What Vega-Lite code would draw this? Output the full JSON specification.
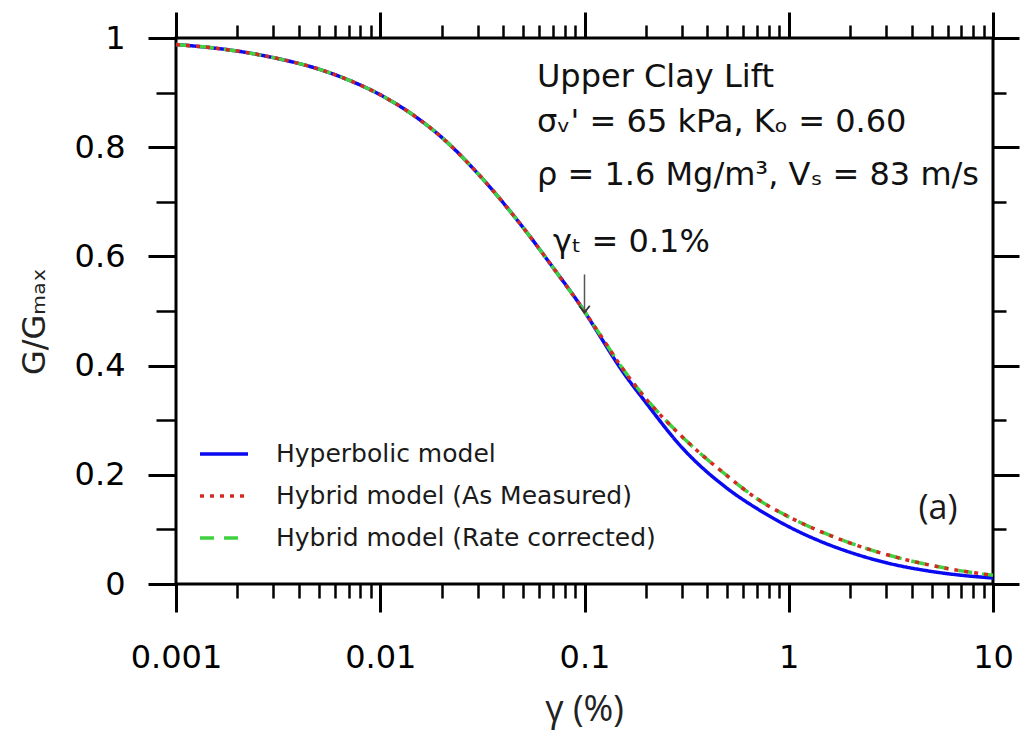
{
  "$schema": "https://vega.github.io/schema/vega-lite/v6.json",
  "width": 817,
  "height": 546,
  "autosize": {"type": "none"},
  "padding": {"left": 176, "top": 38, "right": 30, "bottom": 151},
  "background": "white",
  "config": {
    "view": {"stroke": "black", "strokeWidth": 3},
    "axis": {"domain": false, "grid": false, "tickColor": "black", "labelColor": "black", "labelFont": "DejaVu Sans", "labelFontSize": 32, "labelFlush": false, "labelOverlap": false, "titleColor": "black", "titleFontWeight": "normal"},
    "legend": {"padding": 0}
  },
  "datasets": {
    "curves": [
      {"gamma": 0.001, "G": 0.988, "model": "Hyperbolic model"},
      {"gamma": 0.0015, "G": 0.982, "model": "Hyperbolic model"},
      {"gamma": 0.002, "G": 0.976, "model": "Hyperbolic model"},
      {"gamma": 0.003, "G": 0.964, "model": "Hyperbolic model"},
      {"gamma": 0.005, "G": 0.943, "model": "Hyperbolic model"},
      {"gamma": 0.007, "G": 0.923, "model": "Hyperbolic model"},
      {"gamma": 0.01, "G": 0.896, "model": "Hyperbolic model"},
      {"gamma": 0.015, "G": 0.855, "model": "Hyperbolic model"},
      {"gamma": 0.02, "G": 0.818, "model": "Hyperbolic model"},
      {"gamma": 0.03, "G": 0.752, "model": "Hyperbolic model"},
      {"gamma": 0.05, "G": 0.653, "model": "Hyperbolic model"},
      {"gamma": 0.07, "G": 0.580, "model": "Hyperbolic model"},
      {"gamma": 0.1, "G": 0.499, "model": "Hyperbolic model"},
      {"gamma": 0.12, "G": 0.452, "model": "Hyperbolic model"},
      {"gamma": 0.15, "G": 0.395, "model": "Hyperbolic model"},
      {"gamma": 0.2, "G": 0.332, "model": "Hyperbolic model"},
      {"gamma": 0.3, "G": 0.250, "model": "Hyperbolic model"},
      {"gamma": 0.5, "G": 0.175, "model": "Hyperbolic model"},
      {"gamma": 0.7, "G": 0.138, "model": "Hyperbolic model"},
      {"gamma": 1, "G": 0.105, "model": "Hyperbolic model"},
      {"gamma": 1.5, "G": 0.075, "model": "Hyperbolic model"},
      {"gamma": 2, "G": 0.058, "model": "Hyperbolic model"},
      {"gamma": 3, "G": 0.039, "model": "Hyperbolic model"},
      {"gamma": 5, "G": 0.023, "model": "Hyperbolic model"},
      {"gamma": 7, "G": 0.016, "model": "Hyperbolic model"},
      {"gamma": 10, "G": 0.011, "model": "Hyperbolic model"},
      {"gamma": 0.001, "G": 0.988, "model": "Hybrid model (Rate corrected)"},
      {"gamma": 0.0015, "G": 0.982, "model": "Hybrid model (Rate corrected)"},
      {"gamma": 0.002, "G": 0.976, "model": "Hybrid model (Rate corrected)"},
      {"gamma": 0.003, "G": 0.964, "model": "Hybrid model (Rate corrected)"},
      {"gamma": 0.005, "G": 0.943, "model": "Hybrid model (Rate corrected)"},
      {"gamma": 0.007, "G": 0.923, "model": "Hybrid model (Rate corrected)"},
      {"gamma": 0.01, "G": 0.896, "model": "Hybrid model (Rate corrected)"},
      {"gamma": 0.015, "G": 0.855, "model": "Hybrid model (Rate corrected)"},
      {"gamma": 0.02, "G": 0.818, "model": "Hybrid model (Rate corrected)"},
      {"gamma": 0.03, "G": 0.752, "model": "Hybrid model (Rate corrected)"},
      {"gamma": 0.05, "G": 0.653, "model": "Hybrid model (Rate corrected)"},
      {"gamma": 0.07, "G": 0.580, "model": "Hybrid model (Rate corrected)"},
      {"gamma": 0.1, "G": 0.499, "model": "Hybrid model (Rate corrected)"},
      {"gamma": 0.12, "G": 0.455, "model": "Hybrid model (Rate corrected)"},
      {"gamma": 0.15, "G": 0.400, "model": "Hybrid model (Rate corrected)"},
      {"gamma": 0.2, "G": 0.340, "model": "Hybrid model (Rate corrected)"},
      {"gamma": 0.3, "G": 0.270, "model": "Hybrid model (Rate corrected)"},
      {"gamma": 0.5, "G": 0.198, "model": "Hybrid model (Rate corrected)"},
      {"gamma": 0.7, "G": 0.156, "model": "Hybrid model (Rate corrected)"},
      {"gamma": 1, "G": 0.123, "model": "Hybrid model (Rate corrected)"},
      {"gamma": 1.5, "G": 0.093, "model": "Hybrid model (Rate corrected)"},
      {"gamma": 2, "G": 0.075, "model": "Hybrid model (Rate corrected)"},
      {"gamma": 3, "G": 0.054, "model": "Hybrid model (Rate corrected)"},
      {"gamma": 5, "G": 0.034, "model": "Hybrid model (Rate corrected)"},
      {"gamma": 7, "G": 0.024, "model": "Hybrid model (Rate corrected)"},
      {"gamma": 10, "G": 0.016, "model": "Hybrid model (Rate corrected)"},
      {"gamma": 0.001, "G": 0.988, "model": "Hybrid model (As Measured)"},
      {"gamma": 0.0015, "G": 0.982, "model": "Hybrid model (As Measured)"},
      {"gamma": 0.002, "G": 0.976, "model": "Hybrid model (As Measured)"},
      {"gamma": 0.003, "G": 0.964, "model": "Hybrid model (As Measured)"},
      {"gamma": 0.005, "G": 0.943, "model": "Hybrid model (As Measured)"},
      {"gamma": 0.007, "G": 0.923, "model": "Hybrid model (As Measured)"},
      {"gamma": 0.01, "G": 0.896, "model": "Hybrid model (As Measured)"},
      {"gamma": 0.015, "G": 0.855, "model": "Hybrid model (As Measured)"},
      {"gamma": 0.02, "G": 0.818, "model": "Hybrid model (As Measured)"},
      {"gamma": 0.03, "G": 0.752, "model": "Hybrid model (As Measured)"},
      {"gamma": 0.05, "G": 0.653, "model": "Hybrid model (As Measured)"},
      {"gamma": 0.07, "G": 0.580, "model": "Hybrid model (As Measured)"},
      {"gamma": 0.1, "G": 0.499, "model": "Hybrid model (As Measured)"},
      {"gamma": 0.12, "G": 0.455, "model": "Hybrid model (As Measured)"},
      {"gamma": 0.15, "G": 0.400, "model": "Hybrid model (As Measured)"},
      {"gamma": 0.2, "G": 0.339, "model": "Hybrid model (As Measured)"},
      {"gamma": 0.3, "G": 0.270, "model": "Hybrid model (As Measured)"},
      {"gamma": 0.5, "G": 0.198, "model": "Hybrid model (As Measured)"},
      {"gamma": 0.7, "G": 0.156, "model": "Hybrid model (As Measured)"},
      {"gamma": 1, "G": 0.123, "model": "Hybrid model (As Measured)"},
      {"gamma": 1.5, "G": 0.093, "model": "Hybrid model (As Measured)"},
      {"gamma": 2, "G": 0.075, "model": "Hybrid model (As Measured)"},
      {"gamma": 3, "G": 0.054, "model": "Hybrid model (As Measured)"},
      {"gamma": 5, "G": 0.034, "model": "Hybrid model (As Measured)"},
      {"gamma": 7, "G": 0.024, "model": "Hybrid model (As Measured)"},
      {"gamma": 10, "G": 0.016, "model": "Hybrid model (As Measured)"}
    ],
    "notes": [
      {"gamma": 0.0585, "G": 0.910, "label": "Upper Clay Lift"},
      {"gamma": 0.0585, "G": 0.828, "label": "σᵥ' = 65 kPa, Kₒ = 0.60"},
      {"gamma": 0.0585, "G": 0.731, "label": "ρ = 1.6 Mg/m³, Vₛ = 83 m/s"},
      {"gamma": 0.0701, "G": 0.608, "label": "γₜ = 0.1%"}
    ],
    "arrow": [
      {"gamma": 0.1, "G": 0.567, "G2": 0.497}
    ],
    "panel": [
      {"gamma": 5.38, "G": 0.137, "label": "(a)"}
    ]
  },
  "layer": [
    {
      "data": {"name": "curves"},
      "mark": {"type": "line", "strokeWidth": 3.5, "interpolate": "monotone"},
      "encoding": {
        "x": {"field": "gamma", "type": "quantitative", "scale": {"type": "log", "domain": [0.001, 10]},
          "axis": {"orient": "bottom", "values": [0.001, 0.01, 0.1, 1, 10], "format": "~g", "tickSize": 28, "tickWidth": 3, "labelPadding": 30,
            "title": "γ (%)", "titleFont": "Open Sans", "titleFontSize": 36, "titleX": 408, "titleY": 136, "titleBaseline": "alphabetic", "titleAlign": "center", "titleColor": "#222"}},
        "y": {"field": "G", "type": "quantitative", "scale": {"domain": [0, 1]},
          "axis": {"orient": "left", "values": [0, 0.2, 0.4, 0.6, 0.8, 1], "format": "~g", "tickSize": 28, "tickWidth": 3, "labelPadding": 23,
            "title": "G/Gₘₐₓ", "titleFont": "DejaVu Sans", "titleFontSize": 32, "titleAngle": -90, "titleX": -132, "titleY": 283, "titleBaseline": "alphabetic", "titleAlign": "center", "titleColor": "#222"}},
        "color": {"field": "model", "type": "nominal",
          "scale": {"domain": ["Hyperbolic model", "Hybrid model (As Measured)", "Hybrid model (Rate corrected)"], "range": ["#0a0af0", "#d42a22", "#3fd13f"]},
          "legend": {"orient": "none", "legendX": 22, "legendY": 390, "title": null, "symbolType": "stroke", "symbolSize": 2304, "symbolStrokeWidth": 3.5, "labelFont": "DejaVu Sans", "labelFontSize": 25, "labelColor": "#1a1a1a", "labelOffset": 26, "rowPadding": 3, "labelLimit": 600}},
        "strokeDash": {"field": "model", "type": "nominal",
          "scale": {"domain": ["Hyperbolic model", "Hybrid model (As Measured)", "Hybrid model (Rate corrected)"], "range": [[1, 0], [4, 6], [14, 10]]},
          "legend": {"orient": "none", "legendX": 22, "legendY": 390, "title": null, "symbolType": "stroke", "symbolSize": 2304, "symbolStrokeWidth": 3.5, "labelFont": "DejaVu Sans", "labelFontSize": 25, "labelColor": "#1a1a1a", "labelOffset": 26, "rowPadding": 3, "labelLimit": 600}}
      }
    },
    {
      "data": {"name": "notes"},
      "mark": {"type": "text", "align": "left", "baseline": "alphabetic", "font": "DejaVu Sans", "fontSize": 32, "color": "#111"},
      "encoding": {
        "x": {"field": "gamma", "type": "quantitative", "scale": {"type": "log", "domain": [0.001, 10]},
          "axis": {"orient": "bottom", "values": [0.002, 0.003, 0.004, 0.005, 0.006, 0.007, 0.008, 0.009, 0.02, 0.03, 0.04, 0.05, 0.06, 0.07, 0.08, 0.09, 0.2, 0.3, 0.4, 0.5, 0.6, 0.7, 0.8, 0.9, 2, 3, 4, 5, 6, 7, 8, 9], "labels": false, "tickSize": 14, "tickWidth": 2.5, "title": null}},
        "y": {"field": "G", "type": "quantitative", "scale": {"domain": [0, 1]},
          "axis": {"orient": "left", "values": [0.1, 0.3, 0.5, 0.7, 0.9], "labels": false, "tickSize": 20, "tickWidth": 2.5, "title": null}},
        "text": {"field": "label", "type": "nominal"}
      }
    },
    {
      "data": {"name": "arrow"},
      "mark": {"type": "rule", "color": "#555", "strokeWidth": 1.5},
      "encoding": {
        "x": {"field": "gamma", "type": "quantitative", "scale": {"type": "log", "domain": [0.001, 10]},
          "axis": {"orient": "top", "values": [0.001, 0.01, 0.1, 1, 10], "labels": false, "tickSize": 26, "tickWidth": 3, "title": null}},
        "y": {"field": "G", "type": "quantitative", "scale": {"domain": [0, 1]},
          "axis": {"orient": "right", "values": [0, 0.2, 0.4, 0.6, 0.8, 1], "labels": false, "tickSize": 26, "tickWidth": 3, "title": null}},
        "y2": {"field": "G2"}
      }
    },
    {
      "data": {"name": "arrow"},
      "mark": {"type": "point", "shape": "M-1,-1.3L0,0L1,-1.3", "filled": false, "color": "#333", "strokeWidth": 1.8, "size": 110, "opacity": 1},
      "encoding": {
        "x": {"field": "gamma", "type": "quantitative", "scale": {"type": "log", "domain": [0.001, 10]},
          "axis": {"orient": "top", "values": [0.002, 0.003, 0.004, 0.005, 0.006, 0.007, 0.008, 0.009, 0.02, 0.03, 0.04, 0.05, 0.06, 0.07, 0.08, 0.09, 0.2, 0.3, 0.4, 0.5, 0.6, 0.7, 0.8, 0.9, 2, 3, 4, 5, 6, 7, 8, 9], "labels": false, "tickSize": 13, "tickWidth": 2.5, "title": null}},
        "y": {"field": "G2", "type": "quantitative", "scale": {"domain": [0, 1]},
          "axis": {"orient": "right", "values": [0.1, 0.3, 0.5, 0.7, 0.9], "labels": false, "tickSize": 13, "tickWidth": 2.5, "title": null}}
      }
    },
    {
      "data": {"name": "panel"},
      "mark": {"type": "text", "align": "center", "baseline": "middle", "font": "Open Sans", "fontSize": 34, "color": "#1a1a1a"},
      "encoding": {
        "x": {"field": "gamma", "type": "quantitative", "scale": {"type": "log", "domain": [0.001, 10]}, "axis": null},
        "y": {"field": "G", "type": "quantitative", "scale": {"domain": [0, 1]}, "axis": null},
        "text": {"field": "label", "type": "nominal"}
      }
    }
  ],
  "resolve": {"axis": {"x": "independent", "y": "independent"}}
}
